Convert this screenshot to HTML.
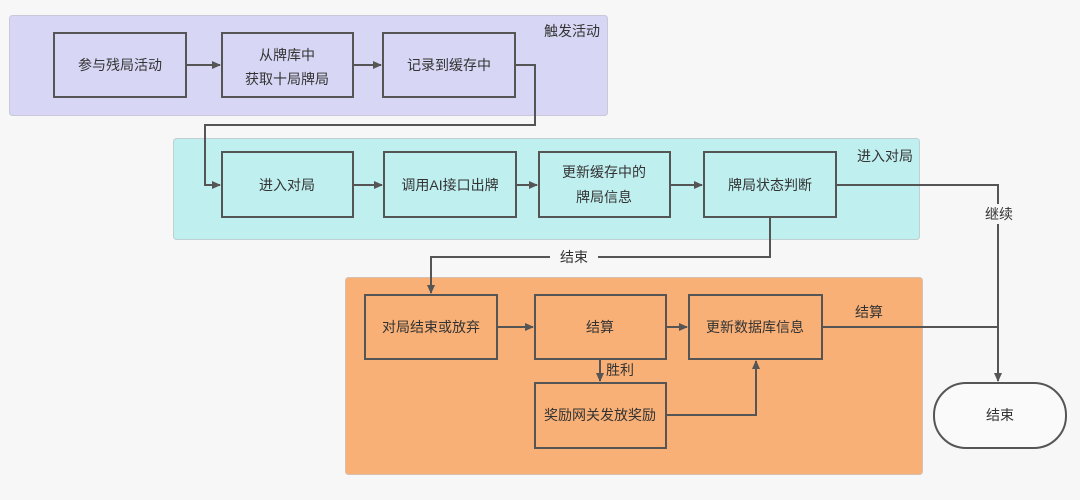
<!DOCTYPE html>
<html><head><meta charset="utf-8"><style>
body{margin:0;background:#f7f7f7;}
svg text{font-family:"Liberation Sans","Noto Sans CJK SC",sans-serif;font-size:14px;fill:#333;}
</style></head><body>
<svg width="1080" height="495" xmlns="http://www.w3.org/2000/svg">
<defs><marker id="a" markerWidth="10" markerHeight="10" refX="8" refY="5" orient="auto" markerUnits="userSpaceOnUse"><path d="M0,1 L9,5 L0,9 z" fill="#555"/></marker></defs>
<rect width="1080" height="495" fill="#f7f7f7"/>
<rect x="9.5" y="15.5" width="598" height="100" rx="3" fill="#d7d7f5" stroke="#c8c8d8"/>
<text x="600" y="36" text-anchor="end">触发活动</text>
<rect x="173.5" y="138.5" width="746" height="101" rx="3" fill="#c0eff0" stroke="#c0d0d0"/>
<text x="913" y="161" text-anchor="end">进入对局</text>
<rect x="345.5" y="277.5" width="577" height="197" rx="3" fill="#f8b077" stroke="#d8c0b0"/>
<g fill="none" stroke="#555" stroke-width="2">
<rect x="54" y="33" width="132" height="64"/>
<rect x="222" y="33" width="131" height="64"/>
<rect x="383" y="33" width="132" height="64"/>
<rect x="222" y="152" width="131" height="65"/>
<rect x="384" y="152" width="132" height="65"/>
<rect x="539" y="152" width="131" height="65"/>
<rect x="704" y="152" width="132" height="65"/>
<rect x="365" y="295" width="132" height="64"/>
<rect x="535" y="295" width="131" height="64"/>
<rect x="689" y="295" width="133" height="64"/>
<rect x="535" y="383" width="131" height="65"/>
<rect x="934" y="383" width="132" height="65" rx="32" fill="#fafafa"/>
<path d="M186,65H220" marker-end="url(#a)"/>
<path d="M353,65H381" marker-end="url(#a)"/>
<path d="M515,65H535V125H205V185H220" marker-end="url(#a)"/>
<path d="M353,185H382" marker-end="url(#a)"/>
<path d="M516,185H537" marker-end="url(#a)"/>
<path d="M670,185H702" marker-end="url(#a)"/>
<path d="M836,185H998V381" marker-end="url(#a)"/>
<path d="M770,217V257H431V293" marker-end="url(#a)"/>
<path d="M497,327H533" marker-end="url(#a)"/>
<path d="M666,327H687" marker-end="url(#a)"/>
<path d="M822,327H998"/>
<path d="M600,359V381" marker-end="url(#a)"/>
<path d="M666,415H756V361" marker-end="url(#a)"/>
</g>
<rect x="978" y="204" width="42" height="20" fill="#f7f7f7"/>
<text x="999" y="219" text-anchor="middle">继续</text>
<rect x="550" y="248" width="48" height="18" fill="#f7f7f7"/>
<text x="574" y="262" text-anchor="middle">结束</text>
<text x="869" y="317" text-anchor="middle">结算</text>
<text x="620" y="375" text-anchor="middle">胜利</text>
<g text-anchor="middle">
<text x="120" y="70">参与残局活动</text>
<text x="287" y="60">从牌库中</text><text x="287" y="84">获取十局牌局</text>
<text x="449" y="70">记录到缓存中</text>
<text x="287" y="190">进入对局</text>
<text x="450" y="190">调用AI接口出牌</text>
<text x="604" y="177">更新缓存中的</text><text x="604" y="202">牌局信息</text>
<text x="770" y="190">牌局状态判断</text>
<text x="431" y="332">对局结束或放弃</text>
<text x="600" y="332">结算</text>
<text x="755" y="332">更新数据库信息</text>
<text x="600" y="420">奖励网关发放奖励</text>
<text x="1000" y="420">结束</text>
</g>
</svg>
</body></html>
